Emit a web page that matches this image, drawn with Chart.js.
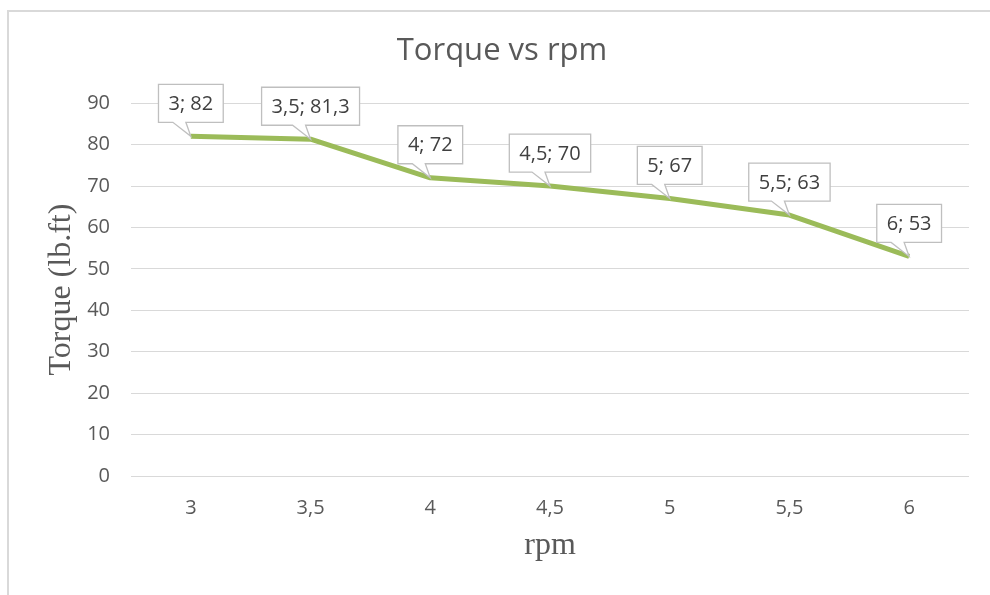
<!DOCTYPE html>
<html>
<head>
<meta charset="utf-8">
<script src="https://cdn.jsdelivr.net/npm/chart.js@4"></script>
<style>
    html, body { margin: 0; background: #fff; overflow: hidden; width: 990px; height: 595px; }
    .frame {
        position: absolute; left: 7px; top: 10px; width: 1200px; height: 800px;
        border-left: 2px solid #d9d9d9; border-top: 2px solid #d9d9d9;
    }
    #torqueChart { position: absolute; left: 0; top: 0; }
</style>
</head>
<body>
<div class="frame"></div>
<canvas id="torqueChart" width="990" height="595"></canvas>
<script>
// ===== DATA =====
const rpmLabels = ['3', '3,5', '4', '4,5', '5', '5,5', '6'];
const torqueValues = [82, 81.3, 72, 70, 67, 63, 53];

// callout labels like "3,5; 81,3"
const calloutPlugin = {
    id: 'callouts',
    afterDatasetsDraw(chart) {
        const ctx = chart.ctx;
        const meta = chart.getDatasetMeta(0);
        ctx.save();
        ctx.font = '20px "Open Sans"';
        meta.data.forEach(function(pt, i) {
            const text = rpmLabels[i] + '; ' + String(torqueValues[i]).replace('.', ',');
            const w = ctx.measureText(text).width + 20;
            const h = 38;
            const cx = pt.x;
            const bottom = pt.y - 14;
            const top = bottom - h;
            const left = cx - w / 2;
            const right = cx + w / 2;

            ctx.beginPath();
            ctx.moveTo(left, top);
            ctx.lineTo(right, top);
            ctx.lineTo(right, bottom);
            ctx.lineTo(cx - 5, bottom);
            ctx.lineTo(pt.x, pt.y);
            ctx.lineTo(cx - 18, bottom);
            ctx.lineTo(left, bottom);
            ctx.closePath();
            ctx.fillStyle = '#ffffff';
            ctx.fill();
            ctx.lineWidth = 1.3;
            ctx.strokeStyle = '#bfbfbf';
            ctx.stroke();

            ctx.fillStyle = '#404040';
            ctx.textAlign = 'center';
            ctx.textBaseline = 'middle';
            ctx.fillText(text, cx, top + h / 2 + 1);
        });
        ctx.restore();
    }
};

new Chart(document.getElementById('torqueChart'), {
    type: 'line',
    data: {
        labels: rpmLabels,
        datasets: [{
            label: 'Torque',
            data: torqueValues,
            borderColor: '#9bbb59',
            borderWidth: 5,
            pointRadius: 0,
            tension: 0,
            borderJoinStyle: 'round'
        }]
    },
    options: {
        responsive: false,
        animation: false,
        layout: {
            padding: { left: 35, right: 21, top: 0, bottom: 0 }
        },
        plugins: {
            legend: { display: false },
            tooltip: { enabled: false },
            title: {
                display: true,
                text: 'Torque vs rpm',
                color: '#595959',
                font: { family: '"Open Sans"', size: 31, weight: 'normal' },
                padding: { top: 33, bottom: 33 }
            }
        },
        scales: {
            x: {
                offset: true,
                afterFit: function(scale) { scale.height = 119; },
                grid: { display: false, drawTicks: false },
                border: { display: false },
                ticks: {
                    color: '#595959',
                    padding: 20,
                    font: { family: '"Open Sans"', size: 20 }
                },
                title: {
                    display: true,
                    text: 'rpm',
                    color: '#595959',
                    font: { family: '"Liberation Serif"', size: 32 },
                    padding: { top: 0, bottom: 30 }
                }
            },
            y: {
                min: 0,
                max: 90,
                afterFit: function(scale) { scale.width = 96; },
                grid: { color: '#d9d9d9', drawTicks: false },
                border: { display: false },
                ticks: {
                    stepSize: 10,
                    color: '#595959',
                    padding: 21,
                    font: { family: '"Open Sans"', size: 20 }
                },
                title: {
                    display: true,
                    text: 'Torque (lb.ft)',
                    color: '#595959',
                    font: { family: '"Liberation Serif"', size: 32 },
                    padding: { top: 7, bottom: 0 }
                }
            }
        }
    },
    plugins: [calloutPlugin]
});
</script>
</body>
</html>
